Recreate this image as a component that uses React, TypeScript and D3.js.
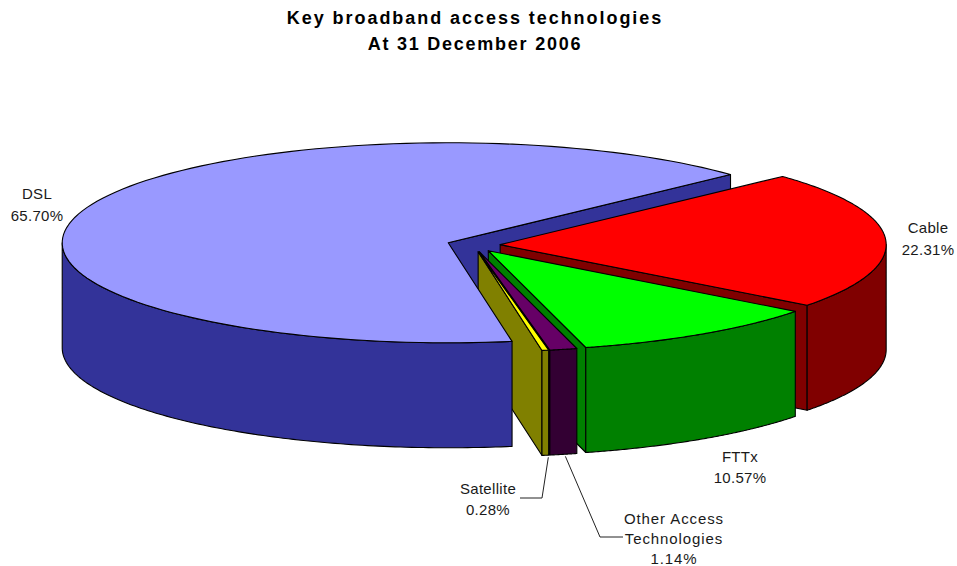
import React from "react";
import * as d3 from "d3";

const categories = ["Cable", "FTTx", "Other Access Technologies", "Satellite", "DSL"];
const shares = [22.31, 10.57, 1.14, 0.28, 65.7];
const topColors = ["#FF0000", "#00FF00", "#660066", "#FFFF00", "#9999FF"];
const wallColors = ["#800000", "#008000", "#330033", "#808000", "#333399"];
const titleLines = ["Key broadband access technologies", "At 31 December 2006"];

const W = 957, H = 566;
const CX = 473.5, CY = 245, RX = 386, RY = 100, DEPTH = 105, EXPLODE = 26.7;
const START = (47 * Math.PI) / 180;

type Pt = [number, number];
const lineGen = d3.line<Pt>().x((d) => d[0]).y((d) => d[1]);

const pieGen = d3.pie<number>().sort(null).startAngle(START).endAngle(START + 2 * Math.PI);
const arcs = pieGen(shares);

const slices = arcs.map((a, i) => {
  const mid = (a.startAngle + a.endAngle) / 2;
  const cx = CX + EXPLODE * Math.sin(mid);
  const cy = CY - EXPLODE * Math.cos(mid) * (RY / RX);
  const at = (t: number, dy = 0): Pt => [cx + RX * Math.sin(t), cy - RY * Math.cos(t) + dy];
  const sample = (t0: number, t1: number, dy = 0): Pt[] =>
    d3.range(0, 121).map((k) => at(t0 + ((t1 - t0) * k) / 120, dy));
  const top = lineGen([[cx, cy], ...sample(a.startAngle, a.endAngle)])! + "Z";
  const endWall = lineGen([[cx, cy], at(a.endAngle), at(a.endAngle, DEPTH), [cx, cy + DEPTH]])! + "Z";
  // outer wall: only the front part of the rim
  const lo = Math.max(a.startAngle, Math.PI / 2);
  const hi = Math.min(a.endAngle, (3 * Math.PI) / 2);
  const outer =
    lo < hi
      ? lineGen([...sample(lo, hi), ...sample(lo, hi, DEPTH).reverse()])! + "Z"
      : null;
  return {
    name: categories[i],
    top,
    outer,
    endWall,
    bottomMid: at(mid, DEPTH),
    fill: topColors[i],
    wall: wallColors[i],
  };
});

const FONT = "'Liberation Sans', Arial, sans-serif";
const S = { stroke: "#000", strokeWidth: 1.1, strokeLinejoin: "round" as const };

function Label({ x, ys, lines, spacing = 0.3 }: { x: number; ys: number[]; lines: string[]; spacing?: number }) {
  return (
    <text textAnchor="middle" fontFamily={FONT} fontSize={15} fill="#1a1a1a" letterSpacing={spacing}>
      {lines.map((l, i) => (
        <tspan key={l} x={x} y={ys[i]}>{l}</tspan>
      ))}
    </text>
  );
}

export default function App() {
  const [cable, fttx, other, sat, dsl] = slices;
  const satA = sat.bottomMid;
  const othA = other.bottomMid;
  return (
    <svg width={W} height={H} viewBox={`0 0 ${W} ${H}`} style={{ position: "absolute", left: 0, top: 0, background: "#fff" }}>
      <text textAnchor="middle" fontFamily={FONT} fontWeight="bold" fontSize={18} fill="#000">
        <tspan x={475} y={24} letterSpacing={1.95}>{titleLines[0]}</tspan>
        <tspan x={475} y={50} letterSpacing={1.75}>{titleLines[1]}</tspan>
      </text>

      {/* far cut face of DSL shows through the gap */}
      <path d={dsl.endWall} fill={dsl.wall} {...S} />

      {[cable, fttx, other, sat].map((s) => (
        <g key={s.name}>
          <path d={s.endWall} fill={s.wall} {...S} />
          {s.outer && <path d={s.outer} fill={s.wall} {...S} />}
          <path d={s.top} fill={s.fill} {...S} />
        </g>
      ))}

      {dsl.outer && <path d={dsl.outer} fill={dsl.wall} {...S} />}
      <path d={dsl.top} fill={dsl.fill} {...S} />

      <path d={lineGen([[520, 498], [542, 498], [satA[0] + 3, satA[1] + 2]])!} fill="none" stroke="#222" strokeWidth={1} />
      <path d={lineGen([[othA[0] + 2, othA[1] + 2], [600, 537], [623, 537]])!} fill="none" stroke="#222" strokeWidth={1} />

      <Label x={37} ys={[199, 221]} lines={["DSL", "65.70%"]} />
      <Label x={928} ys={[233, 255]} lines={["Cable", "22.31%"]} />
      <Label x={740} ys={[462, 483]} lines={["FTTx", "10.57%"]} />
      <Label x={488} ys={[494, 515]} lines={["Satellite", "0.28%"]} />
      <Label x={674} ys={[524, 544, 564]} lines={["Other Access", "Technologies", "1.14%"]} spacing={0.9} />
    </svg>
  );
}
